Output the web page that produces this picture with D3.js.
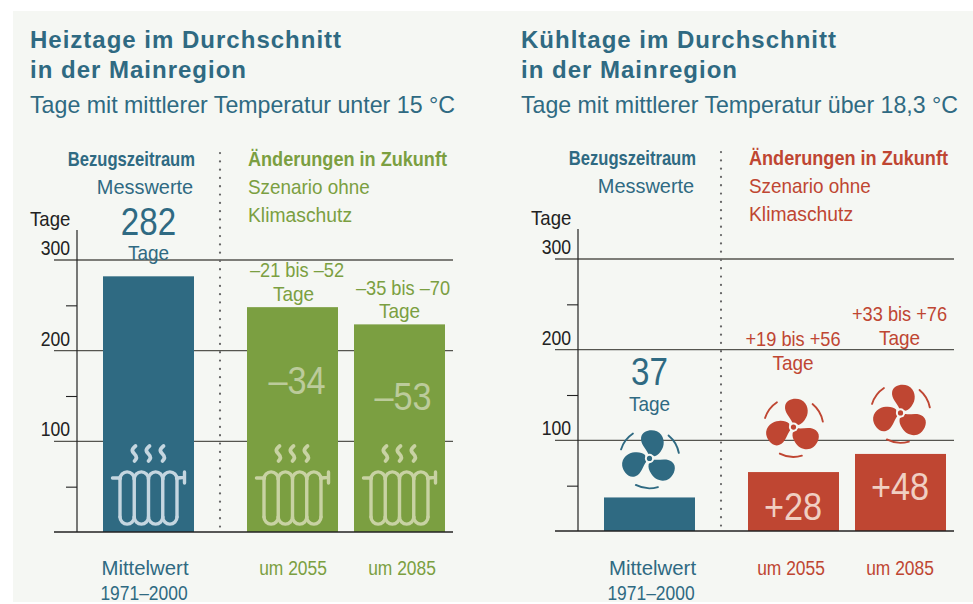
<!DOCTYPE html>
<html>
<head>
<meta charset="utf-8">
<script src="https://cdn.jsdelivr.net/npm/d3@7"></script>
<style>
  html, body { margin: 0; padding: 0; background: #fff; }
  svg { display: block; }
  text { font-family: "Liberation Sans", sans-serif; }
  .head { font-weight: bold; font-size: 24px; letter-spacing: 1px; }
  .sub { font-size: 24px; }
</style>
</head>
<body>
<svg id="chart" width="973" height="604"></svg>
<script>
var categories = ['Mittelwert 1971–2000', 'um 2055', 'um 2085'];
var heatDays = [282, 248, 229];
var heatChange = [null, '–34', '–53'];
var heatRange = [null, '–21 bis –52', '–35 bis –70'];
var coolDays = [37, 65, 85];
var coolChange = [null, '+28', '+48'];
var coolRange = [null, '+19 bis +56', '+33 bis +76'];
var gridTicks = [100, 200, 300];
var minorTicks = [50, 150, 250];

var blue = '#2f6a82', green = '#7b9f41', red = '#bf4632', ink = '#222', paper = '#f5f7f3';
var svg = d3.select('#chart');

svg.append('rect')
  .attr('x', 13).attr('y', 11)
  .attr('width', 960).attr('height', 591)
  .attr('fill', paper);

// no condensed font is installed, so squeeze the glyphs horizontally
function addText(g, str, x, y, color, size, sx, anchor, bold) {
  return g.append('text')
    .attr('transform', 'translate(' + x + ',' + y + ') scale(' + sx + ',1)')
    .attr('fill', color)
    .attr('font-size', size)
    .attr('font-weight', bold ? 'bold' : null)
    .attr('text-anchor', anchor || 'middle')
    .text(str);
}

function drawRadiator(g, cx, base, color) {
  var r = g.append('g')
    .attr('transform', 'translate(' + cx + ',' + base + ')')
    .attr('fill', 'none')
    .attr('stroke', color)
    .attr('stroke-width', 3.4)
    .attr('stroke-linecap', 'round');
  var xs = [-28.5, -14.25, 0, 14.25, 28.5];
  d3.pairs(xs).forEach(function(p) {
    var w = (p[1] - p[0]) / 2;
    r.append('path').attr('d', 'M' + p[0] + ',-53 A' + w + ',' + w + ' 0 0 1 ' + p[1] + ',-53');
    r.append('path').attr('d', 'M' + p[0] + ',-15 A' + w + ',' + w + ' 0 0 0 ' + p[1] + ',-15');
  });
  xs.forEach(function(x) {
    r.append('path').attr('d', 'M' + x + ',-53 L' + x + ',-15');
  });
  r.append('path').attr('d', 'M-36,-54 L-28,-54 M28,-54 Q32,-54 36,-55 M36,-60 L36,-49');
  [-14, 0, 14].forEach(function(x) {
    r.append('path')
      .attr('stroke-width', 3.8)
      .attr('d', 'M' + (x + 1) + ',-86 C' + (x - 4) + ',-82 ' + (x - 2) + ',-80 ' + x + ',-78 C' + (x + 3) + ',-75 ' + (x + 2) + ',-73 ' + x + ',-71');
  });
}

function drawFan(g, cx, cy, color) {
  var f = g.append('g').attr('transform', 'translate(' + cx + ',' + cy + ')');
  [0, 120, 240].forEach(function(a) {
    f.append('path')
      .attr('transform', 'rotate(' + a + ') scale(1.05)')
      .attr('fill', color)
      .attr('d', 'M-1,-4 C-3,-9 -9,-14 -8,-20 C-7,-27 2,-28 7,-26 C14,-23 15,-14 12,-9 C10,-5 8,-3 5,-2 Z');
  });
  f.append('circle').attr('r', 4.6).attr('fill', paper);
  f.append('circle').attr('r', 2.6).attr('fill', color);
  var arc = d3.arc().innerRadius(28.9).outerRadius(30.8).cornerRadius(0.8);
  [[-74, -32], [38, 81], [162, 209]].forEach(function(d) {
    f.append('path')
      .attr('fill', color)
      .attr('d', arc({ startAngle: d[0] * Math.PI / 180, endAngle: d[1] * Math.PI / 180 }));
  });
}

function drawPanel(cfg) {
  var g = svg.append('g').attr('transform', 'translate(' + cfg.dx + ',' + cfg.dy + ')');
  var y = d3.scaleLinear().domain([0, 300]).range([532, 260]);
  var x = d3.scaleOrdinal().domain(categories).range([148.5, 292.5, 399.5]);
  var barW = 91;

  // headings
  var head = svg.append('g').attr('fill', blue);
  head.append('text').attr('class', 'head').attr('x', cfg.headX).attr('y', 48).text(cfg.title);
  head.append('text').attr('class', 'head').attr('x', cfg.headX).attr('y', 78).text('in der Mainregion');
  head.append('text').attr('class', 'sub').attr('x', cfg.headX).attr('y', 113)
    .attr('textLength', cfg.subW).attr('lengthAdjust', 'spacingAndGlyphs')
    .text(cfg.subtitle);

  // grid
  g.selectAll('.grid').data(gridTicks).enter().append('line')
    .attr('x1', 54).attr('x2', 453)
    .attr('y1', function(d) { return y(d); })
    .attr('y2', function(d) { return y(d); })
    .attr('stroke', '#55554f').attr('stroke-width', 1.3);

  // bars
  g.selectAll('.bar').data(cfg.values).enter().append('rect')
    .attr('x', function(d, i) { return x(categories[i]) - barW / 2; })
    .attr('y', function(d) { return y(d); })
    .attr('width', barW)
    .attr('height', function(d) { return y(0) - y(d); })
    .attr('fill', function(d, i) { return i === 0 ? blue : cfg.color; });

  // axis
  var axis = d3.axisLeft(y).tickValues(minorTicks).tickSize(11).tickFormat('');
  var ag = g.append('g').attr('transform', 'translate(77,0)').call(axis);
  ag.select('.domain').remove();
  ag.selectAll('line').attr('stroke', ink).attr('stroke-width', 1.1);
  g.append('line').attr('x1', 77).attr('x2', 77).attr('y1', 230).attr('y2', y(0)).attr('stroke', ink).attr('stroke-width', 1.2);
  g.append('line').attr('x1', 54).attr('x2', 453).attr('y1', y(0)).attr('y2', y(0)).attr('stroke', ink).attr('stroke-width', 1.5);
  gridTicks.forEach(function(d) {
    addText(g, d, 70, y(d) - 5, ink, 20, 0.88, 'end');
  });
  addText(g, 'Tage', 30, 226, ink, 20, 0.93, 'start');

  // divider
  g.append('line')
    .attr('x1', 220).attr('x2', 220).attr('y1', 153).attr('y2', 533)
    .attr('stroke', '#666').attr('stroke-width', 2.2)
    .attr('stroke-linecap', 'round')
    .attr('stroke-dasharray', '0.1,8.2');

  // column headers
  addText(g, 'Bezugszeitraum', 195, 166, blue, 20, 0.83, 'end', true);
  addText(g, 'Messwerte', 145, 194, blue, 21, 0.95);
  addText(g, 'Änderungen in Zukunft', 248, 166, cfg.color, 20, 0.905, 'start', true);
  addText(g, 'Szenario ohne', 248, 194, cfg.color, 21, 0.9, 'start');
  addText(g, 'Klimaschutz', 248, 222, cfg.color, 21, 0.92, 'start');

  // big value of reference period
  addText(g, cfg.values[0], 148.5, cfg.bigY, blue, 39, 0.85);
  addText(g, 'Tage', 148.5, cfg.bigTageY, blue, 20, 0.95);

  // range labels and changes
  cfg.ranges.forEach(function(r, i) {
    if (!r) return;
    addText(g, r, cfg.rangeX[i], cfg.rangeY[i], cfg.color, 20, 0.91);
    addText(g, 'Tage', cfg.tageX[i], cfg.tageY[i], cfg.color, 20, 0.95);
    addText(g, cfg.changes[i], cfg.changeX[i], cfg.changeY[i], cfg.inner, 39, 0.88);
  });

  // x labels, their baselines sit on the same row in both panels
  addText(g, 'Mittelwert', cfg.labelX[0], 575 - cfg.dy, blue, 21, 0.97);
  addText(g, '1971–2000', cfg.labelX[1], 600 - cfg.dy, blue, 21, 0.83);
  addText(g, categories[1], cfg.labelX[2], 575 - cfg.dy, cfg.color, 20, 0.87);
  addText(g, categories[2], cfg.labelX[3], 575 - cfg.dy, cfg.color, 20, 0.87);

  cfg.icons(g, x, y);
}

drawPanel({
  dx: 0, dy: 0, headX: 30, subW: 425,
  title: 'Heiztage im Durchschnitt',
  subtitle: 'Tage mit mittlerer Temperatur unter 15 °C',
  values: heatDays, changes: heatChange, ranges: heatRange,
  color: green, inner: '#bccb9b',
  bigY: 235, bigTageY: 260,
  rangeX: [0, 297, 403], rangeY: [0, 277, 295],
  tageX: [0, 293.5, 399.5], tageY: [0, 301, 318],
  changeX: [0, 297, 403], changeY: [0, 394, 410],
  labelX: [145, 144, 293, 402],
  icons: function(g, x, y) {
    drawRadiator(g, x(categories[0]), y(0), '#c5d6e0');
    drawRadiator(g, x(categories[1]), y(0), '#c8d2a3');
    drawRadiator(g, x(categories[2]), y(0), '#c8d2a3');
  }
});

drawPanel({
  dx: 501, dy: -1, headX: 521, subW: 437,
  title: 'Kühltage im Durchschnitt',
  subtitle: 'Tage mit mittlerer Temperatur über 18,3 °C',
  values: coolDays, changes: coolChange, ranges: coolRange,
  color: red, inner: '#f0cfc2',
  bigY: 386, bigTageY: 412,
  rangeX: [0, 292, 398.5], rangeY: [0, 347, 322],
  tageX: [0, 292, 398.5], tageY: [0, 371, 346],
  changeX: [0, 292, 399], changeY: [0, 521, 501],
  labelX: [151.5, 150, 290, 399],
  icons: function(g, x, y) {
    drawFan(g, x(categories[0]), y(coolDays[0]) - 39, blue);
    drawFan(g, x(categories[1]), y(coolDays[1]) - 45, red);
    drawFan(g, x(categories[2]), y(coolDays[2]) - 41, red);
  }
});
</script>
</body>
</html>
